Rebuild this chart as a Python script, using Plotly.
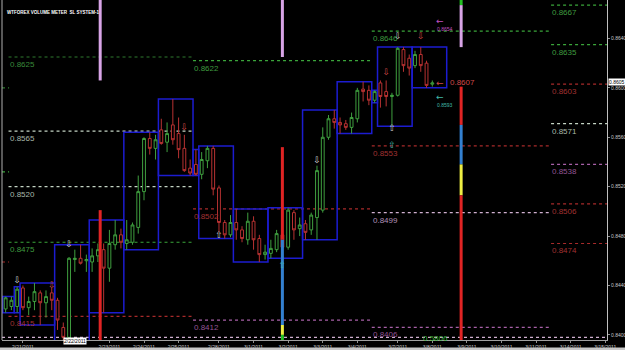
import plotly.graph_objects as go

# ---------------- data ----------------
bar_index = list(range(-3, 72))
opens = [0.8421, 0.8423, 0.8423, 0.8438, 0.8422, 0.8427, 0.8434, 0.8426, 0.8434, 0.8428,
         0.8406, 0.8398, 0.8461, 0.8462, 0.8460, 0.8459, 0.8464, 0.8469, 0.8454, 0.8473,
         0.8481, 0.8474, 0.8475, 0.8487, 0.8516, 0.8559, 0.8551, 0.8566, 0.8556, 0.8570,
         0.8563, 0.8551, 0.8535, 0.8538, 0.8530, 0.8541, 0.8551, 0.8519, 0.8491, 0.8481,
         0.8491, 0.8485, 0.8477, 0.8492, 0.8478, 0.8465, 0.8466, 0.8469, 0.8481, 0.8471,
         0.8499, 0.8486, 0.8490, 0.8485, 0.8495, 0.8501, 0.8560, 0.8575, 0.8572, 0.8571,
         0.8568, 0.8575, 0.8599, 0.8598, 0.8590, 0.8604, 0.8597, 0.8593, 0.8594, 0.8631,
         0.8624, 0.8618, 0.8627, 0.8620, 0.8603]
highs = [0.8431, 0.8431, 0.8439, 0.8440, 0.8431, 0.8442, 0.8436, 0.8436, 0.8438, 0.8430,
         0.8410, 0.8463, 0.8469, 0.8473, 0.8465, 0.8470, 0.8474, 0.8474, 0.8485, 0.8493,
         0.8486, 0.8493, 0.8491, 0.8529, 0.8560, 0.8564, 0.8562, 0.8575, 0.8572, 0.8591,
         0.8576, 0.8562, 0.8542, 0.8550, 0.8548, 0.8553, 0.8553, 0.8521, 0.8493, 0.8497,
         0.8502, 0.8488, 0.8499, 0.8496, 0.8481, 0.8473, 0.8477, 0.8485, 0.8485, 0.8503,
         0.8501, 0.8495, 0.8493, 0.8499, 0.8537, 0.8568, 0.8578, 0.8582, 0.8576, 0.8574,
         0.8580, 0.8600, 0.8605, 0.8602, 0.8598, 0.8606, 0.8606, 0.8596, 0.8633, 0.8633,
         0.8627, 0.8630, 0.8633, 0.8622, 0.8606]
lows = [0.8418, 0.8420, 0.8418, 0.8420, 0.8416, 0.8420, 0.8408, 0.8414, 0.8420, 0.8404,
        0.8392, 0.8396, 0.8451, 0.8457, 0.8451, 0.8451, 0.8459, 0.8418, 0.8443, 0.8469,
        0.8470, 0.8469, 0.8473, 0.8482, 0.8509, 0.8546, 0.8542, 0.8554, 0.8548, 0.8554,
        0.8543, 0.8532, 0.8529, 0.8529, 0.8526, 0.8535, 0.8513, 0.8483, 0.8478, 0.8479,
        0.8477, 0.8475, 0.8473, 0.8469, 0.8459, 0.8461, 0.8462, 0.8467, 0.8469, 0.8469,
        0.8477, 0.8480, 0.8477, 0.8481, 0.8477, 0.8499, 0.8558, 0.8567, 0.8563, 0.8566,
        0.8563, 0.8572, 0.8589, 0.8586, 0.8588, 0.8584, 0.8585, 0.8569, 0.8593, 0.8613,
        0.8610, 0.8616, 0.8613, 0.8600, 0.8601]
closes = [0.8430, 0.8428, 0.8437, 0.8422, 0.8427, 0.8435, 0.8426, 0.8431, 0.8428, 0.8412,
          0.8398, 0.8462, 0.8462, 0.8458, 0.8461, 0.8464, 0.8469, 0.8454, 0.8474, 0.8481,
          0.8475, 0.8477, 0.8489, 0.8516, 0.8559, 0.8551, 0.8558, 0.8555, 0.8563, 0.8558,
          0.8550, 0.8533, 0.8531, 0.8530, 0.8542, 0.8551, 0.8518, 0.8491, 0.8481, 0.8491,
          0.8485, 0.8478, 0.8492, 0.8477, 0.8465, 0.8467, 0.8470, 0.8482, 0.8471, 0.8501,
          0.8485, 0.8489, 0.8483, 0.8497, 0.8533, 0.8560, 0.8575, 0.8572, 0.8570, 0.8568,
          0.8576, 0.8598, 0.8597, 0.8590, 0.8597, 0.8593, 0.8593, 0.8594, 0.8632, 0.8618,
          0.8616, 0.8627, 0.8618, 0.8602, 0.8604]

# trading-day groups: (first bar, number of bars)
day_start = [-3, -1, 0, 6, 12, 18, 24, 30, 31, 37, 43, 49, 55, 61, 62, 68]
day_bars = [2, 1, 6, 6, 6, 6, 6, 1, 6, 6, 6, 6, 6, 1, 6, 6]

# date axis labels
date_pos = [0, 15, 21, 27, 34, 40, 46, 52, 58, 65, 71, 77, 83, 89, 95, 101]
date_text = ["2/21/2011", "2/23/2011", "2/24/2011", "2/25/2011", "2/28/2011", "3/1/2011",
             "3/2/2011", "3/3/2011", "3/4/2011", "3/7/2011", "3/8/2011", "3/9/2011",
             "3/10/2011", "3/11/2011", "3/14/2011", "3/15/2011"]

# horizontal levels
level_price = [0.8600, 0.8532, 0.8459,
               0.8625, 0.8565, 0.8520, 0.8475, 0.8415,
               0.8622, 0.8502, 0.8412,
               0.8646, 0.8553, 0.8499, 0.8406,
               0.8667, 0.8635, 0.8603, 0.8571, 0.8538, 0.8506, 0.8474,
               0.8398]
level_from = [-3.63] * 3 + [-2.5] * 5 + [29.5] * 3 + [60.5] * 4 + [91.6] * 7 + [-3.63]
level_to = [-2.4] * 3 + [29.5] * 5 + [60.5] * 3 + [91.4] * 4 + [101.3] * 7 + [101.3]
level_label = ["", "", "",
               "0.8625", "0.8565", "0.8520", "0.8475", "0.8415",
               "0.8622", "0.8502", "0.8412",
               "0.8646", "0.8553", "0.8499", "0.8406",
               "0.8667", "0.8635", "0.8603", "0.8571", "0.8538", "0.8506", "0.8474",
               ""]
level_kind = ["g", "G", "r",
              "g", "w", "w", "G", "r",
              "G", "r", "v",
              "G", "r", "p", "v",
              "G", "G", "r", "w", "v", "r", "r",
              "p"]

# volume meter vertical bars (bar position, from price, to price, kind)
vm_x = [13.4, 13.4, 45, 45, 45, 45, 45, 76, 76, 76, 76, 76, 76]
vm_from = [0.8672, 0.8501, 0.8672, 0.8552, 0.8477, 0.8408, 0.8400,
           0.8672, 0.8667, 0.8601, 0.8570, 0.8538, 0.8513]
vm_to = [0.8606, 0.8390, 0.8625, 0.8477, 0.8408, 0.8400, 0.8390,
         0.8667, 0.8633, 0.8570, 0.8538, 0.8513, 0.8390]
vm_kind = ["m", "r", "m", "r", "b", "y", "g", "g", "m", "r", "b", "y", "r"]

# signal arrows
arrow_x = [-1, 5, 8, 28, 34, 45, 51, 63, 64, 64, 65, 69]
arrow_y = [0.8444, 0.8440, 0.8473, 0.8568, 0.8480, 0.8456, 0.8541, 0.8612, 0.8567, 0.8553, 0.8641, 0.8641]
arrow_dir = ["d", "d", "d", "d", "u", "u", "d", "d", "u", "u", "d", "d"]
arrow_kind = ["w", "r", "w", "r", "w", "t", "w", "r", "w", "t", "w", "r"]

# price pointers on the right of the last bar
ptr_y = [0.8654, 0.8604, 0.8593]
ptr_text = ["0.8654", "0.8607", "0.8593"]
ptr_kind = ["m", "r", "t"]

axis_ticks = [0.8400, 0.8440, 0.8480, 0.8520, 0.8560, 0.8600, 0.8640]
last_price = 0.8605

# ---------------- styles ----------------
UP = "#3f9f3f"
DN = "#b83232"
BOX = "#1c1cd0"
level_color = {"g": "#2f7a2f", "G": "#3aa53a", "w": "#c4d4c4", "r": "#a82a2a",
               "v": "#a860a8", "p": "#d0b0d0"}
label_color = {"g": "#3a8a3a", "G": "#3f9a3f", "w": "#a8b8a8", "r": "#a03232",
               "v": "#945494", "p": "#b090b8"}
vm_color = {"m": "#d8a4e6", "r": "#e02424", "b": "#3380d0", "y": "#eeee44", "g": "#22c022"}
arrow_color = {"w": "#d0d0d0", "r": "#d04848", "t": "#40b8a8", "m": "#c050c0"}

fig = go.Figure()

# level lines (below everything)
for p, a, b, k in zip(level_price, level_from, level_to, level_kind):
    fig.add_shape(type="line", xref="x", yref="y", x0=a, x1=b, y0=p, y1=p,
                  line=dict(color=level_color[k], width=1.2, dash="dot"), layer="below")
for p, a, t, k in zip(level_price, level_from, level_label, level_kind):
    if t:
        fig.add_annotation(x=a, y=p, xref="x", yref="y", text=t, showarrow=False,
                           xanchor="left", yanchor="top", yshift=-1, xshift=-1,
                           font=dict(family="Liberation Sans", size=8, color=label_color[k]))

# daily range boxes computed from the bars
for s, n in zip(day_start, day_bars):
    hs = [h for i, h in zip(bar_index, highs) if s <= i < s + n]
    ls = [l for i, l in zip(bar_index, lows) if s <= i < s + n]
    fig.add_shape(type="rect", xref="x", yref="y", x0=s - 0.5, x1=s + n - 0.5,
                  y0=min(ls), y1=max(hs), line=dict(color=BOX, width=1.5),
                  fillcolor="rgba(0,0,0,0)", layer="below")

fig.add_trace(go.Candlestick(
    x=bar_index, open=opens, high=highs, low=lows, close=closes,
    increasing=dict(line=dict(color=UP, width=1), fillcolor="black"),
    decreasing=dict(line=dict(color=DN, width=1), fillcolor="black"),
    whiskerwidth=0, showlegend=False, hoverinfo="skip"))

for x, a, b, k in zip(vm_x, vm_from, vm_to, vm_kind):
    fig.add_trace(go.Scatter(x=[x, x], y=[a, b], mode="lines",
                             line=dict(color=vm_color[k], width=3),
                             showlegend=False, hoverinfo="skip"))

fig.add_trace(go.Scatter(
    x=arrow_x, y=arrow_y, mode="text",
    text=["⇩" if d == "d" else "⇧" for d in arrow_dir],
    textfont=dict(family="DejaVu Sans", size=9, color=[arrow_color[k] for k in arrow_kind]),
    showlegend=False, hoverinfo="skip"))

for y, t, k in zip(ptr_y, ptr_text, ptr_kind):
    fig.add_annotation(x=71.3, y=y, xref="x", yref="y", text="←", showarrow=False,
                       xanchor="left", font=dict(family="DejaVu Sans", size=9, color=arrow_color[k]))
for y, t, k in zip(ptr_y, ptr_text, ptr_kind):
    if k == "r":
        fig.add_annotation(x=73.8, y=y, xref="x", yref="y", text=t, showarrow=False,
                           xanchor="left", yanchor="middle",
                           font=dict(family="Liberation Sans", size=8, color=arrow_color[k]))
    else:
        fig.add_annotation(x=71.4, y=y, xref="x", yref="y", text=t, showarrow=False,
                           xanchor="left", yanchor="top", yshift=-3,
                           font=dict(family="Liberation Sans", size=5, color=arrow_color[k]))

# current price box on the axis
fig.add_annotation(x=1, y=last_price, xref="paper", yref="y", text=f"{last_price:.4f}",
                   showarrow=False, xanchor="left", xshift=1, bgcolor="white",
                   borderpad=0, font=dict(family="Liberation Sans", size=5, color="black"))

# title
fig.add_annotation(x=3 / 605, y=1 - 13 / 340, xref="paper", yref="paper",
                   text="<b>WTFOREX VOLUME METER  SL SYSTEM-1</b>", showarrow=False,
                   xanchor="left", yanchor="middle",
                   font=dict(family="Liberation Sans", size=4.5, color="white"))

# crosshair date box and green text near the bottom
fig.add_annotation(x=9, y=-5 / 340, xref="x", yref="paper", text="2/22/2011",
                   showarrow=False, bgcolor="white", borderpad=0,
                   font=dict(family="Liberation Sans", size=5, color="black"))
fig.add_annotation(x=71.5, y=-5 / 340, xref="x", yref="paper", text="0.5806",
                   showarrow=False, font=dict(family="Liberation Sans", size=8, color="#3cb03c"))

# bottom status strip and left border
fig.add_shape(type="rect", xref="paper", yref="paper", x0=-2 / 605, x1=1 + 18 / 605,
              y0=-10 / 340, y1=-7.5 / 340, fillcolor="#c8c8c8", line=dict(width=0))
fig.add_shape(type="line", xref="paper", yref="paper", x0=0, x1=0, y0=0, y1=1,
              line=dict(color="#b0b0b0", width=1))

fig.update_layout(
    width=625, height=350,
    margin=dict(l=2, r=18, t=0, b=10),
    paper_bgcolor="black", plot_bgcolor="black",
    showlegend=False,
    xaxis=dict(range=[-3.63, 101.3], showgrid=False, zeroline=False,
               rangeslider=dict(visible=False), tickmode="array",
               tickvals=date_pos, ticktext=date_text, ticks="outside", ticklen=2,
               tickcolor="#909090", showline=True, linecolor="#a0a0a0", linewidth=1,
               tickfont=dict(family="Liberation Sans", size=5, color="#c8c8c8"),
               automargin=False, fixedrange=True),
    yaxis=dict(range=[0.839585, 0.867115], side="right", showgrid=False, zeroline=False,
               tickmode="array", tickvals=axis_ticks,
               ticktext=[f"{v:.4f}" for v in axis_ticks], ticks="outside", ticklen=2,
               tickcolor="#909090", showline=True, linecolor="#c0c0c0", linewidth=1,
               tickfont=dict(family="Liberation Sans", size=5, color="#c8c8c8"),
               automargin=False, fixedrange=True),
)

fig.write_html("out.html")
